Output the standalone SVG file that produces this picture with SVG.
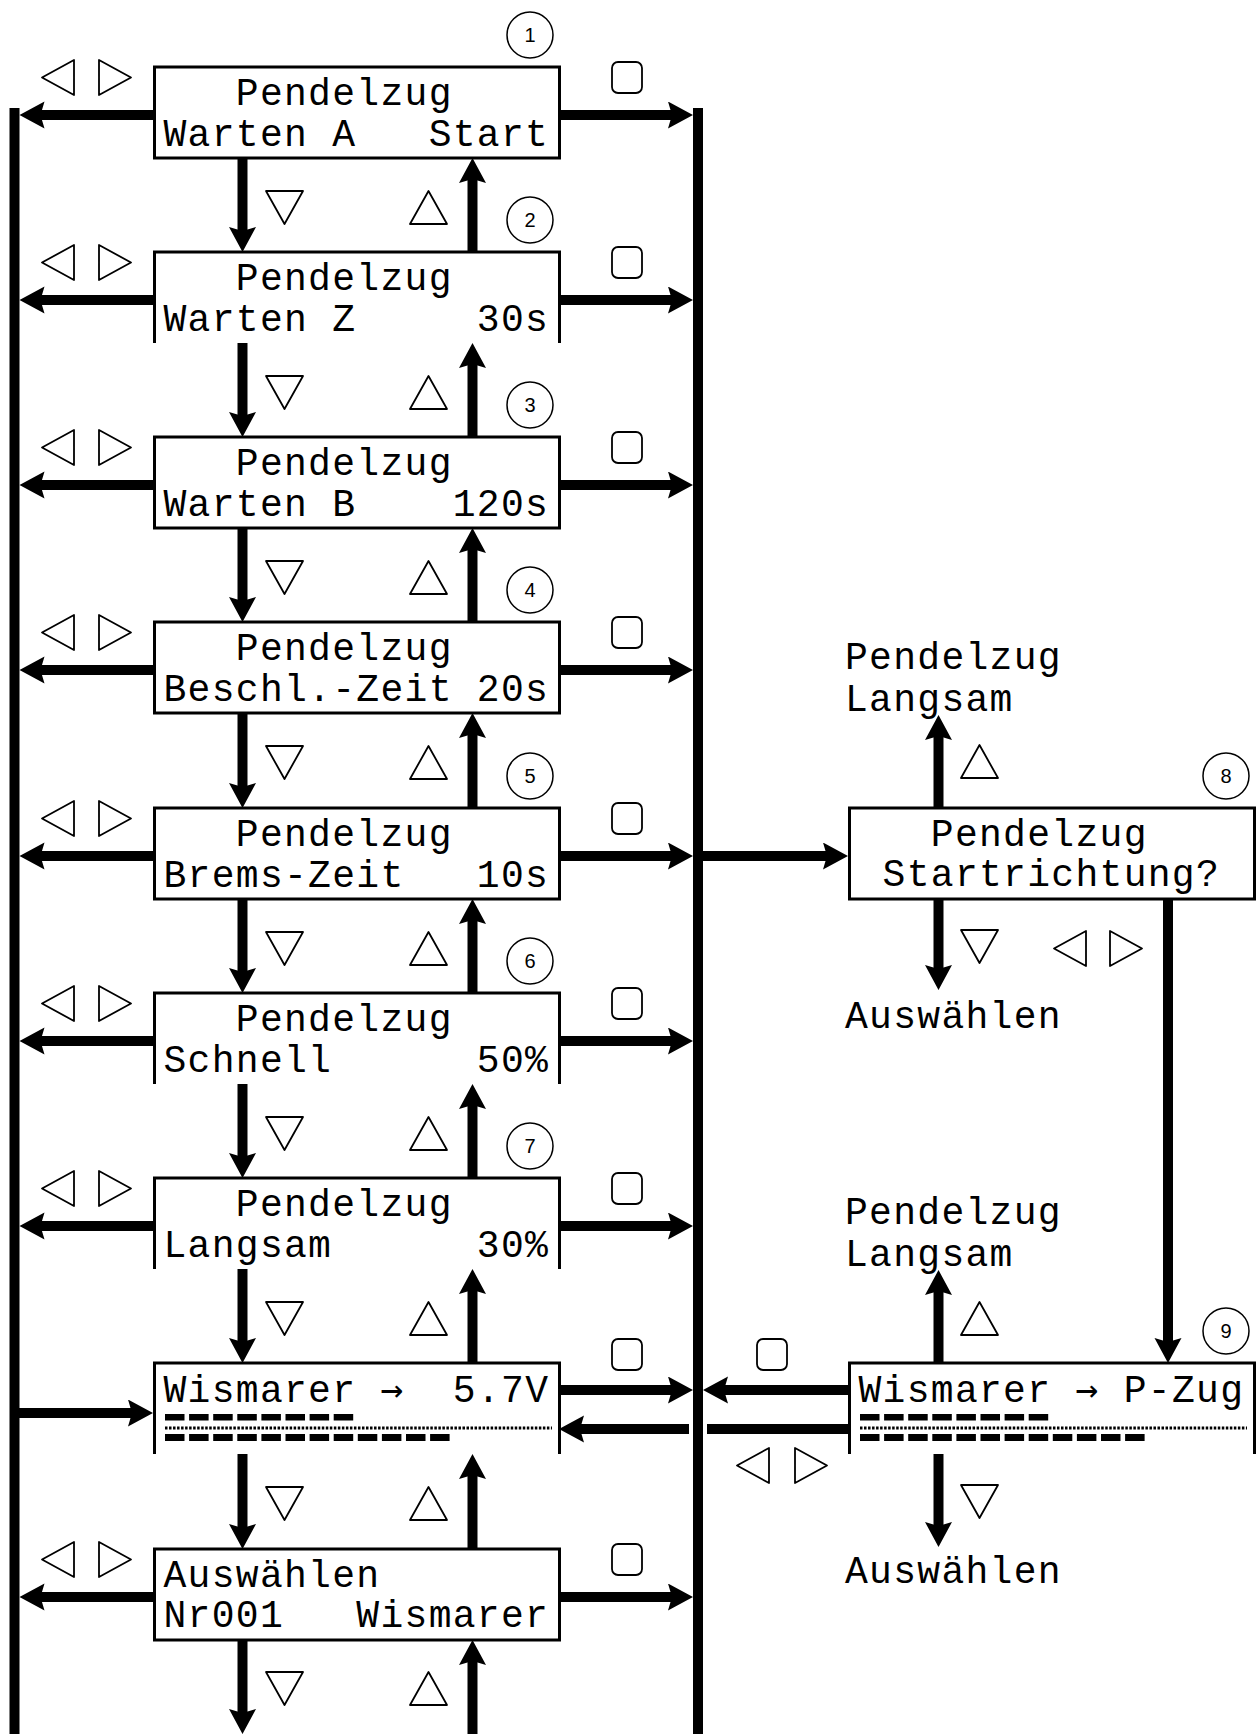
<svg xmlns="http://www.w3.org/2000/svg" width="1258" height="1734" viewBox="0 0 1258 1734">
<style>
.lcd{font-family:"Liberation Mono","DejaVu Sans Mono",monospace;font-size:38px;letter-spacing:1.3px;fill:#000}
.ar{font-family:"DejaVu Sans Mono",monospace;font-size:38px}
.box{fill:#fff;stroke:#000;stroke-width:3}
.obox{fill:none;stroke:#000;stroke-width:3}
.sym{fill:none;stroke:#000;stroke-width:1.8;stroke-linejoin:round}
.num{fill:none;stroke:#000;stroke-width:1.5}
.numt{font-family:"Liberation Sans",Arial,sans-serif;font-size:20px;text-anchor:middle;fill:#000}
.bar{stroke:#000;stroke-width:10;fill:none}
.arr{stroke:#000;stroke-width:10;fill:none;marker-end:url(#ah)}
.ln{stroke:#000;stroke-width:10;fill:none}
.dots{stroke:#000;stroke-width:3.2;stroke-dasharray:2.5 1.52;fill:none}
</style>
<defs>
<marker id="ah" markerUnits="userSpaceOnUse" markerWidth="26" markerHeight="28" refX="7" refY="13.5" orient="auto">
<path d="M0,0 L25,13.5 L0,27 L4,13.5 Z" fill="#000"/>
</marker>
<polygon id="tl" class="sym" points="32,0 32,35 0,17.5"/>
<polygon id="tr" class="sym" points="0,0 0,35 32,17.5"/>
<polygon id="td" class="sym" points="0,0 37,0 18.5,33"/>
<polygon id="tu" class="sym" points="18.5,0 37,33 0,33"/>
<rect id="sq" class="sym" x="0" y="0" width="30" height="31" rx="6"/>
</defs>
<rect width="1258" height="1734" fill="#fff"/>

<g id="connectors">
<line class="bar" x1="14.5" y1="108" x2="14.5" y2="1734"/>
<line class="bar" x1="698" y1="108" x2="698" y2="1734"/>
<line class="arr" x1="153" y1="115" x2="37.5" y2="115"/>
<line class="arr" x1="153" y1="300" x2="37.5" y2="300"/>
<line class="arr" x1="153" y1="485" x2="37.5" y2="485"/>
<line class="arr" x1="153" y1="670" x2="37.5" y2="670"/>
<line class="arr" x1="153" y1="856" x2="37.5" y2="856"/>
<line class="arr" x1="153" y1="1041" x2="37.5" y2="1041"/>
<line class="arr" x1="153" y1="1226" x2="37.5" y2="1226"/>
<line class="arr" x1="153" y1="1597" x2="37.5" y2="1597"/>
<line class="arr" x1="559" y1="115" x2="675" y2="115"/>
<line class="arr" x1="559" y1="300" x2="675" y2="300"/>
<line class="arr" x1="559" y1="485" x2="675" y2="485"/>
<line class="arr" x1="559" y1="670" x2="675" y2="670"/>
<line class="arr" x1="559" y1="856" x2="675" y2="856"/>
<line class="arr" x1="559" y1="1041" x2="675" y2="1041"/>
<line class="arr" x1="559" y1="1226" x2="675" y2="1226"/>
<line class="arr" x1="559" y1="1597" x2="675" y2="1597"/>
<line class="arr" x1="19" y1="1413" x2="135" y2="1413"/>
<line class="arr" x1="559" y1="1390" x2="675" y2="1390"/>
<line class="arr" x1="689" y1="1429" x2="577" y2="1429"/>
<line class="ln" x1="848" y1="1429" x2="707" y2="1429"/>
<line class="arr" x1="848" y1="1390" x2="721" y2="1390"/>
<line class="arr" x1="703" y1="856" x2="830" y2="856"/>
<line class="arr" x1="242.5" y1="158" x2="242.5" y2="234"/>
<line class="arr" x1="242.5" y1="343" x2="242.5" y2="419"/>
<line class="arr" x1="242.5" y1="528" x2="242.5" y2="604"/>
<line class="arr" x1="242.5" y1="713" x2="242.5" y2="790"/>
<line class="arr" x1="242.5" y1="899" x2="242.5" y2="975"/>
<line class="arr" x1="242.5" y1="1084" x2="242.5" y2="1160"/>
<line class="arr" x1="242.5" y1="1269" x2="242.5" y2="1345"/>
<line class="arr" x1="242.5" y1="1454" x2="242.5" y2="1531"/>
<line class="arr" x1="242.5" y1="1640" x2="242.5" y2="1716"/>
<line class="arr" x1="472.5" y1="252" x2="472.5" y2="176"/>
<line class="arr" x1="472.5" y1="437" x2="472.5" y2="361"/>
<line class="arr" x1="472.5" y1="622" x2="472.5" y2="546"/>
<line class="arr" x1="472.5" y1="808" x2="472.5" y2="731"/>
<line class="arr" x1="472.5" y1="993" x2="472.5" y2="917"/>
<line class="arr" x1="472.5" y1="1178" x2="472.5" y2="1102"/>
<line class="arr" x1="472.5" y1="1363" x2="472.5" y2="1287"/>
<line class="arr" x1="472.5" y1="1549" x2="472.5" y2="1472"/>
<line class="arr" x1="472.5" y1="1734" x2="472.5" y2="1658"/>
<line class="arr" x1="938.5" y1="808" x2="938.5" y2="733"/>
<line class="arr" x1="938.5" y1="899" x2="938.5" y2="972"/>
<line class="arr" x1="938.5" y1="1363" x2="938.5" y2="1288"/>
<line class="arr" x1="938.5" y1="1454" x2="938.5" y2="1529"/>
<line class="arr" x1="1168" y1="899" x2="1168" y2="1345"/>
</g>

<g id="keys">
<use href="#tl" x="42" y="60"/><use href="#tr" x="99" y="60"/><use href="#sq" x="612" y="62"/>
<use href="#tl" x="42" y="245"/><use href="#tr" x="99" y="245"/><use href="#sq" x="612" y="247"/>
<use href="#tl" x="42" y="430"/><use href="#tr" x="99" y="430"/><use href="#sq" x="612" y="432"/>
<use href="#tl" x="42" y="615"/><use href="#tr" x="99" y="615"/><use href="#sq" x="612" y="617"/>
<use href="#tl" x="42" y="801"/><use href="#tr" x="99" y="801"/><use href="#sq" x="612" y="803"/>
<use href="#tl" x="42" y="986"/><use href="#tr" x="99" y="986"/><use href="#sq" x="612" y="988"/>
<use href="#tl" x="42" y="1171"/><use href="#tr" x="99" y="1171"/><use href="#sq" x="612" y="1173"/>
<use href="#sq" x="612" y="1339"/>
<use href="#tl" x="42" y="1542"/><use href="#tr" x="99" y="1542"/><use href="#sq" x="612" y="1544"/>
<use href="#td" x="266" y="191"/><use href="#tu" x="410" y="191"/>
<use href="#td" x="266" y="376"/><use href="#tu" x="410" y="376"/>
<use href="#td" x="266" y="561"/><use href="#tu" x="410" y="561"/>
<use href="#td" x="266" y="746"/><use href="#tu" x="410" y="746"/>
<use href="#td" x="266" y="932"/><use href="#tu" x="410" y="932"/>
<use href="#td" x="266" y="1117"/><use href="#tu" x="410" y="1117"/>
<use href="#td" x="266" y="1302"/><use href="#tu" x="410" y="1302"/>
<use href="#td" x="266" y="1487"/><use href="#tu" x="410" y="1487"/>
<use href="#td" x="266" y="1672"/><use href="#tu" x="410" y="1672"/>
<use href="#tu" x="961" y="745"/><use href="#td" x="961" y="930"/>
<use href="#tl" x="1054" y="931"/><use href="#tr" x="1110" y="931"/>
<use href="#tu" x="961" y="1302"/><use href="#td" x="961" y="1485"/>
<use href="#sq" x="757" y="1339"/>
<use href="#tl" x="737" y="1448"/><use href="#tr" x="795" y="1448"/>
</g>

<g id="n1">
<rect class="box" x="154.5" y="67" width="405" height="91"/>
<text class="lcd" x="163.5" y="105" xml:space="preserve">   Pendelzug</text>
<text class="lcd" x="163.5" y="146" xml:space="preserve">Warten A   Start</text>
<circle class="num" cx="530" cy="35" r="23"/><text class="numt" x="530" y="42">1</text>
</g>
<g id="n2">
<rect x="154.5" y="252" width="405" height="91" fill="#fff"/>
<path class="obox" d="M154.5,343 V252 H559.5 V343"/>
<text class="lcd" x="163.5" y="290" xml:space="preserve">   Pendelzug</text>
<text class="lcd" x="163.5" y="331" xml:space="preserve">Warten Z     30s</text>
<circle class="num" cx="530" cy="220" r="23"/><text class="numt" x="530" y="227">2</text>
</g>
<g id="n3">
<rect class="box" x="154.5" y="437" width="405" height="91"/>
<text class="lcd" x="163.5" y="475" xml:space="preserve">   Pendelzug</text>
<text class="lcd" x="163.5" y="516" xml:space="preserve">Warten B    120s</text>
<circle class="num" cx="530" cy="405" r="23"/><text class="numt" x="530" y="412">3</text>
</g>
<g id="n4">
<rect class="box" x="154.5" y="622" width="405" height="91"/>
<text class="lcd" x="163.5" y="660" xml:space="preserve">   Pendelzug</text>
<text class="lcd" x="163.5" y="701" xml:space="preserve">Beschl.-Zeit 20s</text>
<circle class="num" cx="530" cy="590" r="23"/><text class="numt" x="530" y="597">4</text>
</g>
<g id="n5">
<rect class="box" x="154.5" y="808" width="405" height="91"/>
<text class="lcd" x="163.5" y="846" xml:space="preserve">   Pendelzug</text>
<text class="lcd" x="163.5" y="887" xml:space="preserve">Brems-Zeit   10s</text>
<circle class="num" cx="530" cy="776" r="23"/><text class="numt" x="530" y="783">5</text>
</g>
<g id="n6">
<rect x="154.5" y="993" width="405" height="91" fill="#fff"/>
<path class="obox" d="M154.5,1084 V993 H559.5 V1084"/>
<text class="lcd" x="163.5" y="1031" xml:space="preserve">   Pendelzug</text>
<text class="lcd" x="163.5" y="1072" xml:space="preserve">Schnell      50%</text>
<circle class="num" cx="530" cy="961" r="23"/><text class="numt" x="530" y="968">6</text>
</g>
<g id="n7">
<rect x="154.5" y="1178" width="405" height="91" fill="#fff"/>
<path class="obox" d="M154.5,1269 V1178 H559.5 V1269"/>
<text class="lcd" x="163.5" y="1216" xml:space="preserve">   Pendelzug</text>
<text class="lcd" x="163.5" y="1257" xml:space="preserve">Langsam      30%</text>
<circle class="num" cx="530" cy="1146" r="23"/><text class="numt" x="530" y="1153">7</text>
</g>
<g id="n-wismarer">
<rect x="154.5" y="1363" width="405" height="91" fill="#fff"/>
<path class="obox" d="M154.5,1454 V1363 H559.5 V1454"/>
<text class="lcd" x="163.5" y="1402" xml:space="preserve">Wismarer <tspan class="ar">→</tspan>  5.7V</text>
<g fill="#000">
<rect x="165" y="1414" width="19.5" height="6.5"/><rect x="189.1" y="1414" width="19.5" height="6.5"/><rect x="213.2" y="1414" width="19.5" height="6.5"/><rect x="237.3" y="1414" width="19.5" height="6.5"/><rect x="261.4" y="1414" width="19.5" height="6.5"/><rect x="285.5" y="1414" width="19.5" height="6.5"/><rect x="309.6" y="1414" width="19.5" height="6.5"/><rect x="333.7" y="1414" width="19.5" height="6.5"/>
<rect x="165" y="1434" width="19.5" height="7"/><rect x="189.1" y="1434" width="19.5" height="7"/><rect x="213.2" y="1434" width="19.5" height="7"/><rect x="237.3" y="1434" width="19.5" height="7"/><rect x="261.4" y="1434" width="19.5" height="7"/><rect x="285.5" y="1434" width="19.5" height="7"/><rect x="309.6" y="1434" width="19.5" height="7"/><rect x="333.7" y="1434" width="19.5" height="7"/><rect x="357.8" y="1434" width="19.5" height="7"/><rect x="381.9" y="1434" width="19.5" height="7"/><rect x="406" y="1434" width="19.5" height="7"/><rect x="430.1" y="1434" width="19.5" height="7"/>
</g>
<line class="dots" x1="165" y1="1428" x2="552" y2="1428"/>
</g>
<g id="n-auswaehlen">
<rect class="box" x="154.5" y="1549" width="405" height="91"/>
<text class="lcd" x="163.5" y="1587" xml:space="preserve">Auswählen</text>
<text class="lcd" x="163.5" y="1627" xml:space="preserve">Nr001   Wismarer</text>
</g>

<g id="n8">
<rect class="box" x="849.5" y="808" width="405" height="91"/>
<text class="lcd" x="858.5" y="846" xml:space="preserve">   Pendelzug</text>
<text class="lcd" x="858.5" y="886" xml:space="preserve"> Startrichtung?</text>
<circle class="num" cx="1226" cy="776" r="23"/><text class="numt" x="1226" y="783">8</text>
</g>
<g id="n8-up">
<text class="lcd" x="845" y="669">Pendelzug</text>
<text class="lcd" x="845" y="711">Langsam</text>
</g>
<g id="n8-down">
<text class="lcd" x="845" y="1028">Auswählen</text>
</g>
<g id="n9">
<rect x="849.5" y="1363" width="405" height="91" fill="#fff"/>
<path class="obox" d="M849.5,1454 V1363 H1254.5 V1454"/>
<text class="lcd" x="858.5" y="1402" xml:space="preserve">Wismarer <tspan class="ar">→</tspan> P-Zug</text>
<g fill="#000">
<rect x="860" y="1414" width="19.5" height="6.5"/><rect x="884.1" y="1414" width="19.5" height="6.5"/><rect x="908.2" y="1414" width="19.5" height="6.5"/><rect x="932.3" y="1414" width="19.5" height="6.5"/><rect x="956.4" y="1414" width="19.5" height="6.5"/><rect x="980.5" y="1414" width="19.5" height="6.5"/><rect x="1004.6" y="1414" width="19.5" height="6.5"/><rect x="1028.7" y="1414" width="19.5" height="6.5"/>
<rect x="860" y="1434" width="19.5" height="7"/><rect x="884.1" y="1434" width="19.5" height="7"/><rect x="908.2" y="1434" width="19.5" height="7"/><rect x="932.3" y="1434" width="19.5" height="7"/><rect x="956.4" y="1434" width="19.5" height="7"/><rect x="980.5" y="1434" width="19.5" height="7"/><rect x="1004.6" y="1434" width="19.5" height="7"/><rect x="1028.7" y="1434" width="19.5" height="7"/><rect x="1052.8" y="1434" width="19.5" height="7"/><rect x="1076.9" y="1434" width="19.5" height="7"/><rect x="1101" y="1434" width="19.5" height="7"/><rect x="1125.1" y="1434" width="19.5" height="7"/>
</g>
<line class="dots" x1="860" y1="1428" x2="1247" y2="1428"/>
<circle class="num" cx="1226" cy="1331" r="23"/><text class="numt" x="1226" y="1338">9</text>
</g>
<g id="n9-up">
<text class="lcd" x="845" y="1224">Pendelzug</text>
<text class="lcd" x="845" y="1266">Langsam</text>
</g>
<g id="n9-down">
<text class="lcd" x="845" y="1583">Auswählen</text>
</g>
</svg>
